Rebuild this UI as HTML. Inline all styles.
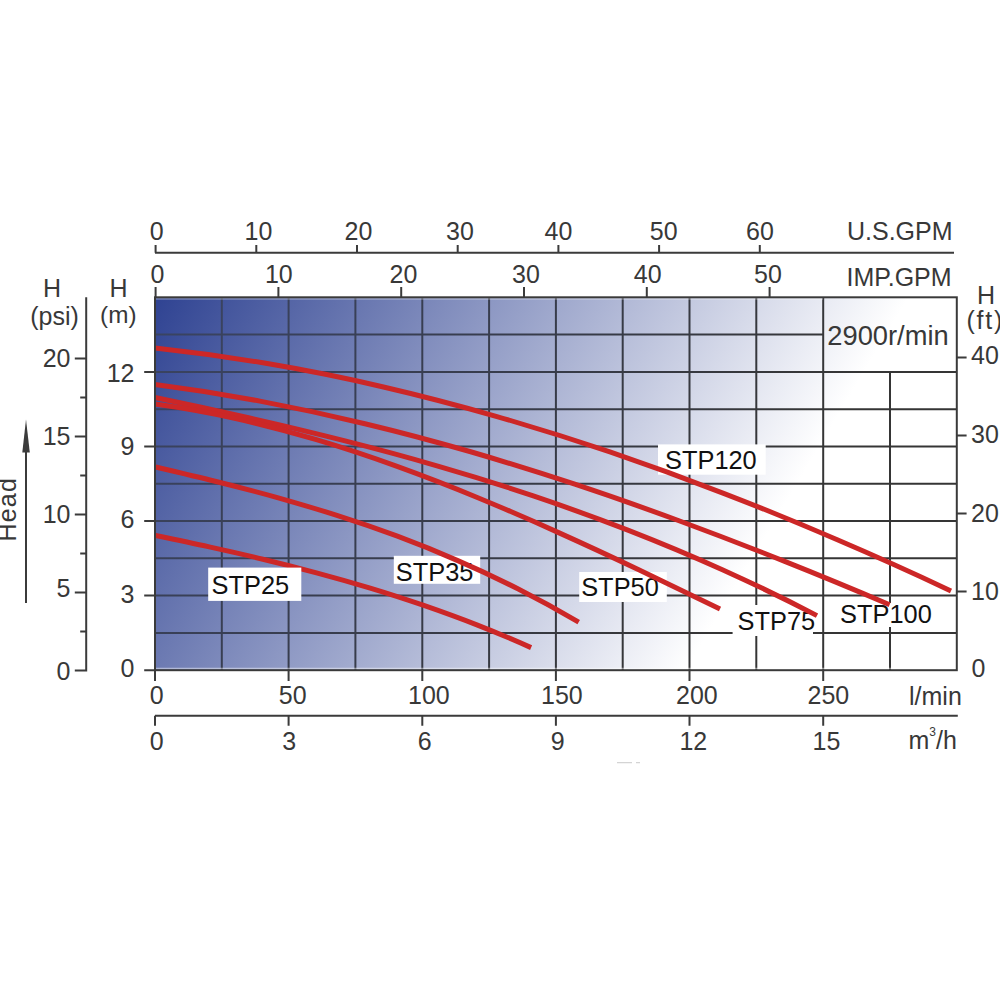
<!DOCTYPE html>
<html><head><meta charset="utf-8"><title>Pump curves</title>
<style>html,body{margin:0;padding:0;background:#fff;overflow:hidden}svg{display:block}</style>
</head><body>
<svg width="1000" height="1000" viewBox="0 0 1000 1000" font-family="'Liberation Sans', Arial, sans-serif">
<defs><linearGradient id="g" gradientUnits="userSpaceOnUse" x1="150.5" y1="293.5" x2="710.5" y2="628.7">
<stop offset="0" stop-color="rgb(45,65,145)"/><stop offset="1" stop-color="#fff"/></linearGradient>
<linearGradient id="gl" gradientUnits="userSpaceOnUse" x1="150.5" y1="293.5" x2="710.5" y2="628.7">
<stop offset="0" stop-color="rgb(58,68,100)"/><stop offset="1" stop-color="#353535"/></linearGradient></defs>
<rect width="1000" height="1000" fill="#fff"/>
<rect x="155.0" y="297.3" width="801.8" height="372.9" fill="url(#g)"/>
<path d="M221.8,297.3V670.2M288.6,297.3V670.2M355.4,297.3V670.2M422.3,297.3V670.2M489.1,297.3V670.2M555.9,297.3V670.2M622.7,297.3V670.2M689.5,297.3V670.2M756.3,297.3V670.2M823.2,297.3V670.2M890.0,371.9V670.2M155.0,334.6H823.2M155.0,371.9H956.8M155.0,409.2H956.8M155.0,446.5H956.8M155.0,483.8H956.8M155.0,521.0H956.8M155.0,558.3H956.8M155.0,595.6H956.8M155.0,632.9H956.8" stroke="url(#gl)" stroke-width="2" fill="none"/>
<rect x="393.8" y="555.8" width="86.4" height="28.0" fill="#fff"/>
<rect x="579.2" y="572" width="87.6" height="30.0" fill="#fff"/>
<rect x="658" y="444.4" width="107.7" height="30.3" fill="#fff"/>
<rect x="732.6" y="605" width="80.4" height="31.0" fill="#fff"/>
<rect x="838" y="603" width="96.0" height="24.0" fill="#fff"/>
<text x="395.8" y="581.4" font-size="25.4" fill="#111">STP35</text>
<text x="581.2" y="596.2" font-size="25.4" fill="#111">STP50</text>
<text x="737.6" y="630" font-size="25.4" fill="#111">STP75</text>
<text x="840.1" y="622.5" font-size="25.4" fill="#111">STP100</text>
<text x="665.0" y="469.1" font-size="25.4" fill="#111">STP120</text>
<path d="M155.0,347.9 C192.9,352.0 230.8,357.3 268.7,363.8 C306.6,370.2 344.5,377.9 382.4,386.7 C420.3,395.5 458.2,405.4 496.1,416.3 C534.0,427.2 572.0,439.1 609.9,451.9 C647.8,464.8 685.7,478.6 723.6,493.3 C761.5,507.9 799.4,523.5 837.3,539.8 C875.2,556.0 913.1,573.1 951.0,590.9" stroke="#cc2727" stroke-width="5" fill="none"/>
<path d="M155.0,384.5 C190.0,389.0 225.0,394.5 259.9,401.1 C294.9,407.7 329.9,415.2 364.9,423.7 C399.9,432.1 434.8,441.4 469.8,451.5 C504.8,461.7 539.8,472.6 574.8,484.2 C609.8,495.8 644.7,508.1 679.7,521.0 C714.7,533.9 749.7,547.4 784.7,561.4 C819.6,575.3 854.6,589.8 889.6,604.7" stroke="#cc2727" stroke-width="5" fill="none"/>
<path d="M155.0,397.5 C186.5,404.0 218.0,410.8 249.6,418.0 C281.1,425.1 312.6,432.6 344.1,440.7 C375.7,448.7 407.2,457.2 438.7,466.4 C470.2,475.5 501.8,485.3 533.3,495.9 C564.8,506.5 596.3,517.9 627.9,530.1 C659.4,542.4 690.9,555.5 722.4,569.7 C754.0,584.0 785.5,599.2 817.0,615.6" stroke="#cc2727" stroke-width="5" fill="none"/>
<path d="M155.0,404.1 C181.9,407.8 208.8,412.6 235.7,418.6 C262.6,424.6 289.5,431.7 316.4,439.7 C343.3,447.7 370.2,456.7 397.1,466.4 C424.0,476.1 451.0,486.6 477.9,497.7 C504.8,508.8 531.7,520.4 558.6,532.6 C585.5,544.7 612.4,557.2 639.3,570.0 C666.2,582.9 693.1,595.9 720.0,609.1" stroke="#cc2727" stroke-width="5" fill="none"/>
<path d="M155.6,467.0 C175.7,471.7 195.9,476.4 216.0,481.5 C236.2,486.5 256.3,491.7 276.5,497.3 C296.6,503.0 316.8,508.9 336.9,515.4 C357.1,521.8 377.2,528.7 397.4,536.2 C417.5,543.7 437.7,551.8 457.8,560.6 C478.0,569.3 498.1,578.8 518.3,589.0 C538.4,599.2 558.6,610.3 578.7,622.2" stroke="#cc2727" stroke-width="5" fill="none"/>
<path d="M155.6,535.5 C173.5,539.2 191.4,542.9 209.2,546.9 C227.1,550.8 245.0,554.9 262.9,559.2 C280.8,563.5 298.6,568.0 316.5,572.8 C334.4,577.6 352.3,582.7 370.2,588.1 C388.1,593.5 405.9,599.3 423.8,605.4 C441.7,611.6 459.6,618.1 477.5,625.1 C495.3,632.1 513.2,639.6 531.1,647.6" stroke="#cc2727" stroke-width="5" fill="none"/>
<rect x="208.2" y="567.6" width="93.1" height="33.3" fill="#fff"/>
<text x="211.5" y="594.2" font-size="25.4" fill="#111">STP25</text>
<path d="M156.0,298.90000000000003H823.2M156.0,668.5H955.8" stroke="#fff" stroke-opacity="0.45" stroke-width="1.3"/>
<rect x="155.0" y="297.3" width="801.8" height="372.9" fill="none" stroke="#3a3a3a" stroke-width="2"/>
<text x="888.0" y="345.2" font-size="27.3" text-anchor="middle" fill="#383838">2900r/min</text>
<path d="M617,762.6H632M636,762.6H640" stroke="#d4d4d4" stroke-width="1.2"/>
<path d="M155.0,252.7H954M155.6,245V252.7M256.3,245V252.7M357.0,245V252.7M457.7,245V252.7M558.4,245V252.7M659.1,245V252.7M759.8,245V252.7M155.6,287V297.3M278.4,287V297.3M401.2,287V297.3M524.0,287V297.3M646.8,287V297.3M769.6,287V297.3M155.0,670.2V681M288.6,670.2V681M422.3,670.2V681M555.9,670.2V681M689.5,670.2V681M823.2,670.2V681M155.0,715.8H957.8M155.0,715.8V725.8M288.6,715.8V725.8M422.3,715.8V725.8M555.9,715.8V725.8M689.5,715.8V725.8M823.2,715.8V725.8M86.2,297.2V670.5H74.8M74.8,358.5H86.2M80.2,397.5H86.2M74.8,436.5H86.2M80.2,475.5H86.2M74.8,514.5H86.2M80.2,553.5H86.2M74.8,592.5H86.2M80.2,631.5H86.2M144.2,670.2H155.0M144.2,595.6H155.0M144.2,521.0H155.0M144.2,446.5H155.0M144.2,371.9H155.0M956.8,591.5H966.6M956.8,513.4H966.6M956.8,435.4H966.6M956.8,357.4H966.6M26,450V602.9" stroke="#3b3b3b" stroke-width="2" fill="none"/>
<path d="M26,419.4L29.8,452.4L22.3,452.4Z" fill="#3b3b3b"/>
<text x="156.6" y="240.3" font-size="25" text-anchor="middle" fill="#383838">0</text>
<text x="258.5" y="240.3" font-size="25" text-anchor="middle" fill="#383838">10</text>
<text x="358.4" y="240.3" font-size="25" text-anchor="middle" fill="#383838">20</text>
<text x="460.0" y="240.3" font-size="25" text-anchor="middle" fill="#383838">30</text>
<text x="558.5" y="240.3" font-size="25" text-anchor="middle" fill="#383838">40</text>
<text x="663.7" y="240.3" font-size="25" text-anchor="middle" fill="#383838">50</text>
<text x="759.9" y="240.3" font-size="25" text-anchor="middle" fill="#383838">60</text>
<text x="847.0" y="240.3" font-size="25" text-anchor="start" fill="#383838">U.S.GPM</text>
<text x="157.4" y="283.3" font-size="25" text-anchor="middle" fill="#383838">0</text>
<text x="278.8" y="283.3" font-size="25" text-anchor="middle" fill="#383838">10</text>
<text x="403.4" y="283.3" font-size="25" text-anchor="middle" fill="#383838">20</text>
<text x="525.9" y="283.3" font-size="25" text-anchor="middle" fill="#383838">30</text>
<text x="647.7" y="283.3" font-size="25" text-anchor="middle" fill="#383838">40</text>
<text x="768.0" y="283.3" font-size="25" text-anchor="middle" fill="#383838">50</text>
<text x="846.5" y="286.0" font-size="25" text-anchor="start" fill="#383838">IMP.GPM</text>
<text x="70.5" y="366.9" font-size="25" text-anchor="end" fill="#383838">20</text>
<text x="70.5" y="444.7" font-size="25" text-anchor="end" fill="#383838">15</text>
<text x="70.5" y="522.9" font-size="25" text-anchor="end" fill="#383838">10</text>
<text x="70.5" y="597.4" font-size="25" text-anchor="end" fill="#383838">5</text>
<text x="70.5" y="679.9" font-size="25" text-anchor="end" fill="#383838">0</text>
<text x="134.5" y="382.2" font-size="25" text-anchor="end" fill="#383838">12</text>
<text x="134.5" y="454.9" font-size="25" text-anchor="end" fill="#383838">9</text>
<text x="134.5" y="528.0" font-size="25" text-anchor="end" fill="#383838">6</text>
<text x="134.5" y="602.5" font-size="25" text-anchor="end" fill="#383838">3</text>
<text x="134.5" y="677.3" font-size="25" text-anchor="end" fill="#383838">0</text>
<text x="52.0" y="297.2" font-size="25" text-anchor="middle" fill="#383838">H</text>
<text x="54.5" y="324.5" font-size="25" text-anchor="middle" fill="#383838">(psi)</text>
<text x="118.6" y="297.2" font-size="25" text-anchor="middle" fill="#383838">H</text>
<text x="118.3" y="322.6" font-size="24.3" text-anchor="middle" fill="#383838">(m)</text>
<text transform="translate(15.6,541.5) rotate(-90)" font-size="25" letter-spacing="1.2" fill="#383838">Head</text>
<text x="986.0" y="303.9" font-size="25" text-anchor="middle" fill="#383838">H</text>
<text x="966.6" y="329.2" font-size="25" text-anchor="start" fill="#383838" letter-spacing="1.7">(ft)</text>
<text x="971.0" y="364.2" font-size="25" text-anchor="start" fill="#383838">40</text>
<text x="971.0" y="442.9" font-size="25" text-anchor="start" fill="#383838">30</text>
<text x="971.0" y="522.4" font-size="25" text-anchor="start" fill="#383838">20</text>
<text x="971.0" y="600.4" font-size="25" text-anchor="start" fill="#383838">10</text>
<text x="971.5" y="677.0" font-size="25" text-anchor="start" fill="#383838">0</text>
<text x="156.6" y="704.0" font-size="25" text-anchor="middle" fill="#383838">0</text>
<text x="292.7" y="704.0" font-size="25" text-anchor="middle" fill="#383838">50</text>
<text x="428.9" y="704.0" font-size="25" text-anchor="middle" fill="#383838">100</text>
<text x="561.9" y="704.0" font-size="25" text-anchor="middle" fill="#383838">150</text>
<text x="696.9" y="704.0" font-size="25" text-anchor="middle" fill="#383838">200</text>
<text x="828.4" y="704.0" font-size="25" text-anchor="middle" fill="#383838">250</text>
<text x="909.0" y="705.0" font-size="25" text-anchor="start" fill="#383838">l/min</text>
<text x="156.6" y="749.6" font-size="25" text-anchor="middle" fill="#383838">0</text>
<text x="289.2" y="749.6" font-size="25" text-anchor="middle" fill="#383838">3</text>
<text x="424.6" y="749.6" font-size="25" text-anchor="middle" fill="#383838">6</text>
<text x="557.6" y="749.6" font-size="25" text-anchor="middle" fill="#383838">9</text>
<text x="693.3" y="749.6" font-size="25" text-anchor="middle" fill="#383838">12</text>
<text x="826.5" y="749.6" font-size="25" text-anchor="middle" fill="#383838">15</text>
<text x="908.5" y="749.4" font-size="25" fill="#383838">m<tspan font-size="12" dy="-13">3</tspan><tspan dy="13">/h</tspan></text>
</svg>
</body></html>
